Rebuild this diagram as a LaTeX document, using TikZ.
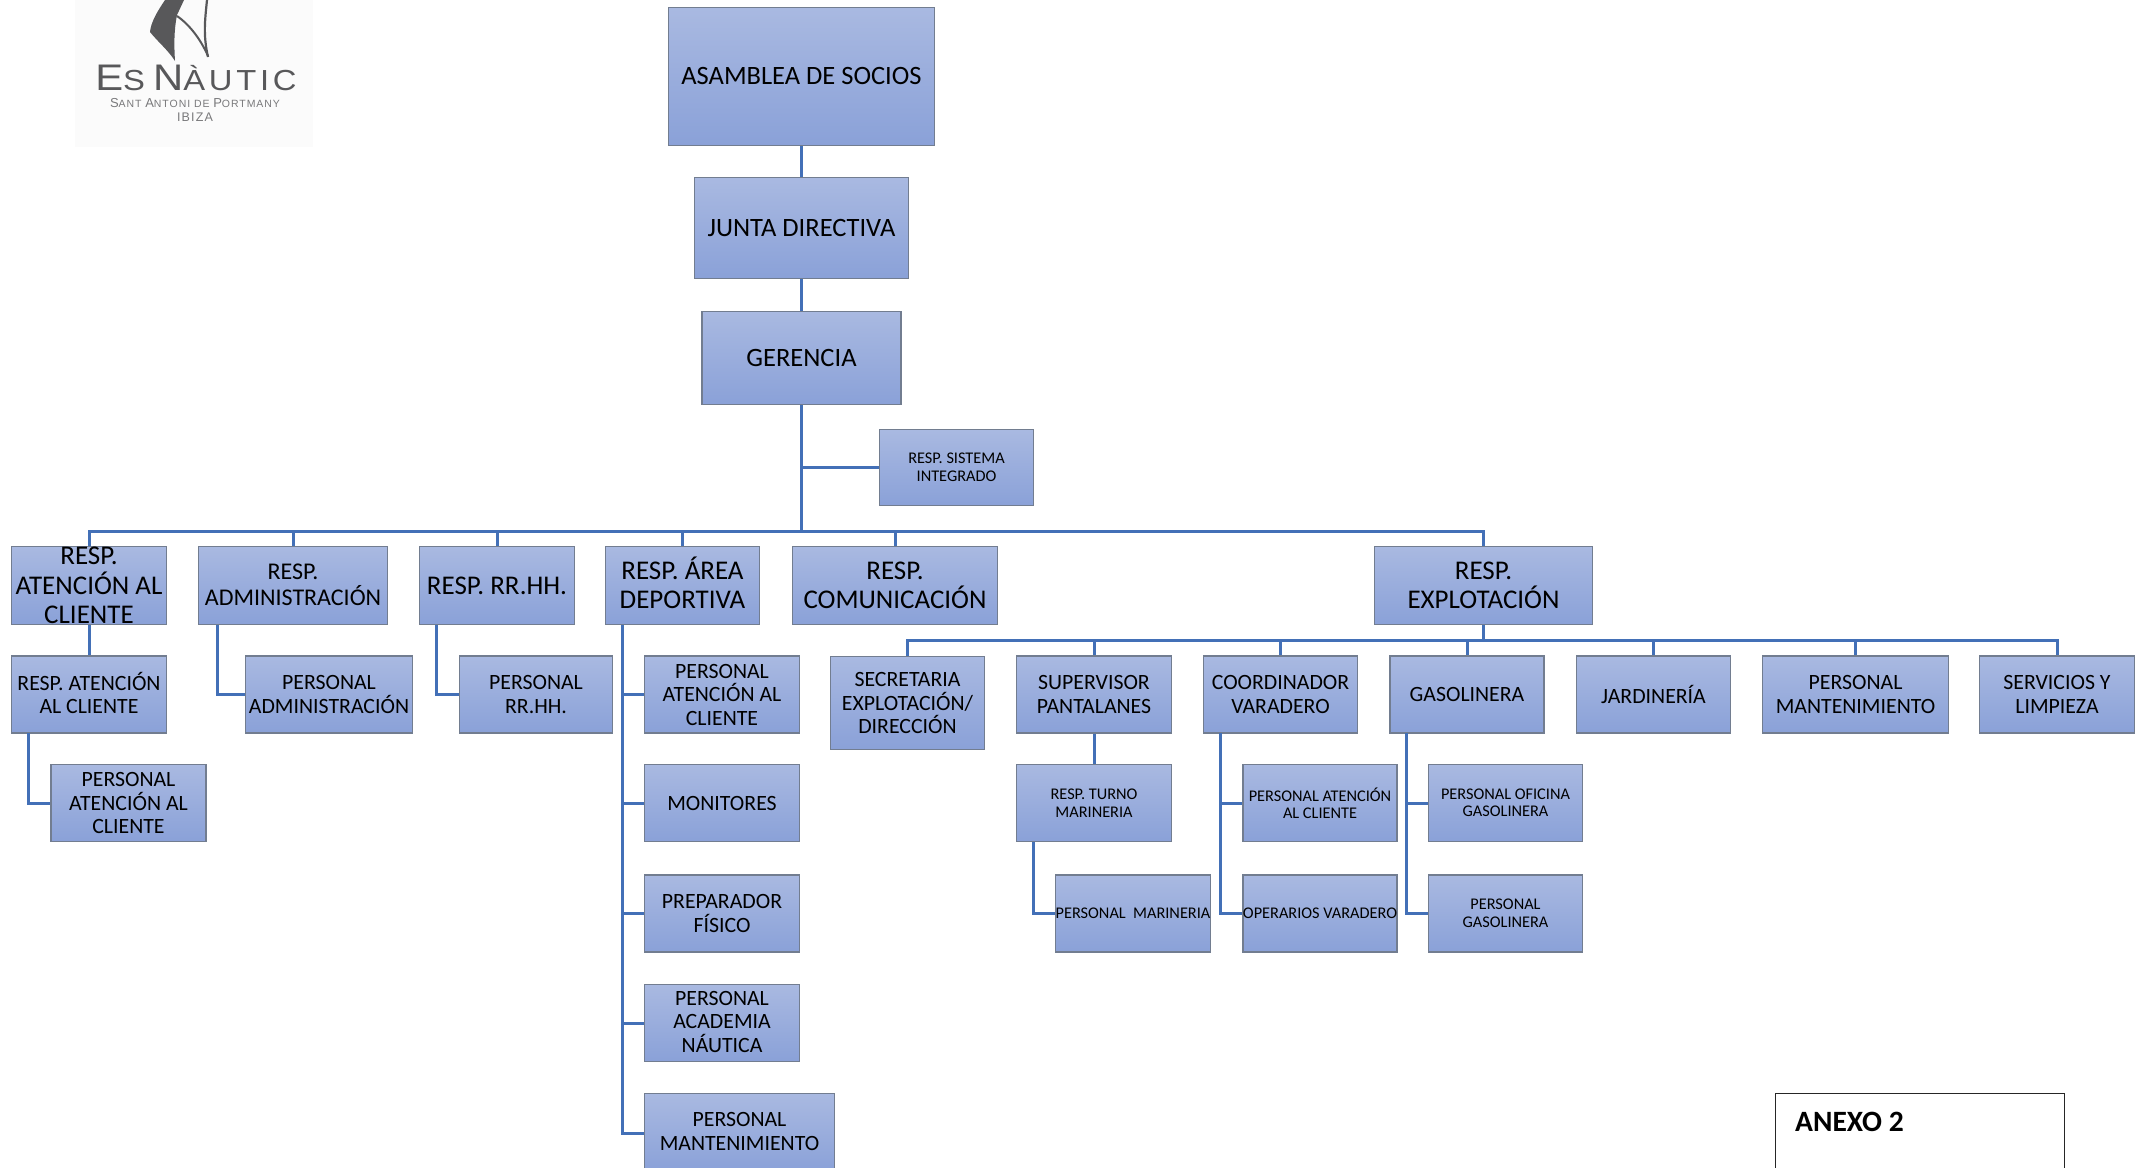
\documentclass[tikz,border=0pt]{standalone}
\usepackage{fontspec}
\setmainfont{Carlito}
\newfontfamily\logofont[LetterSpace=13,FakeStretch=1.13]{Liberation Sans}
\newfontfamily\logoplacefont[LetterSpace=9]{Liberation Sans}
\definecolor{boxtop}{HTML}{A9B9E1}
\definecolor{boxbottom}{HTML}{8AA1D8}
\definecolor{boxline}{HTML}{727D90}
\definecolor{connblue}{HTML}{4370B7}
\definecolor{logogray}{HTML}{58585A}
\newcommand{\logocaps}[2]{{\fontsize{37}{37}\selectfont #1}{\fontsize{29}{29}\selectfont #2}}
\newcommand{\logosmall}[2]{{\fontsize{13}{13}\selectfont #1}{\fontsize{10.5}{10.5}\selectfont #2}}
\newcommand{\lift}[1]{\rule[-#1]{0pt}{#1}}
\begin{document}
\begin{tikzpicture}[x=1pt,y=-1pt,
  orgbox/.style={rectangle, draw=boxline, line width=1.2pt, top color=boxtop, bottom color=boxbottom,
    align=center, inner sep=0pt, text=black},
  row/.style={orgbox, minimum width=155, minimum height=77},
  toptext/.style={font=\fontsize{26.5}{30}\selectfont},
  headtext/.style={font=\fontsize{27}{29.5}\selectfont},
  midtext/.style={font=\fontsize{21.8}{23.5}\selectfont},
  smalltext/.style={font=\fontsize{16.3}{17.5}\selectfont},
  conn/.style={draw=connblue, line width=3pt}]

\clip (0,0) rectangle (2140,1167);
\fill[white] (0,0) rectangle (2140,1167);

% logo
\fill[black!1.5] (75,0) rectangle (313,147);
\fill[logogray] (165,0) .. controls (157,12) and (151,22) .. (150,32) .. controls (158,42) and (168,50) .. (175,61)
  .. controls (174,45) and (174,30) .. (177,15) -- (184,0) -- cycle;
\draw[logogray,line width=2.2pt] (207,0) .. controls (205,20) and (203,35) .. (208,57);
\draw[logogray,line width=2pt] (177,16) .. controls (190,25) and (201,40) .. (208,56);
\node[text=logogray,font=\logofont,inner sep=0pt] (logoname) at (196,78) {\logocaps{E}{S}\hspace{8pt}\logocaps{N}{ÀUTIC}};
\node[text=logogray!80,font=\logoplacefont,inner sep=0pt] (logoplace) at (195,103) {\logosmall{S}{ANT} \logosmall{A}{NTONI DE} \logosmall{P}{ORTMANY}};
\node[text=logogray!80,font=\logoplacefont,inner sep=0pt] (logoisland) at (195,117) {{\fontsize{12.5}{12.5}\selectfont IBIZA}};

% top of the chart
\node[orgbox,toptext,minimum width=266,minimum height=138] (asamblea) at (801.5,76.5) {ASAMBLEA DE SOCIOS\lift{2pt}};
\node[orgbox,toptext,minimum width=214,minimum height=101] (junta) at (801.5,228) {JUNTA DIRECTIVA};
\node[orgbox,toptext,minimum width=199,minimum height=93] (gerencia) at (801.5,358) {GERENCIA};
\node[orgbox,font=\fontsize{16.3}{17.5}\selectfont,minimum width=154,minimum height=76] (sistema) at (956.5,467.5) {RESP. SISTEMA\\INTEGRADO};

% heads
\node[orgbox,headtext,minimum width=155,minimum height=78] (atencion) at (89,585.5) {RESP.\\ATENCIÓN AL\\CLIENTE};
\node[orgbox,font=\fontsize{24}{26}\selectfont,minimum width=189,minimum height=78] (admin) at (293,585.5) {RESP.\\ADMINISTRACIÓN\lift{2pt}};
\node[orgbox,headtext,minimum width=155,minimum height=78] (rrhh) at (497,585.5) {RESP. RR.HH.};
\node[orgbox,headtext,minimum width=154,minimum height=78] (deportiva) at (682.5,585.5) {RESP. ÁREA\\DEPORTIVA\lift{6pt}};
\node[orgbox,headtext,minimum width=205,minimum height=78] (comunicacion) at (895,585.5) {RESP.\\COMUNICACIÓN};
\node[orgbox,headtext,minimum width=218,minimum height=78] (explotacion) at (1483.5,585.5) {RESP.\\EXPLOTACIÓN};

% left columns
\node[row,midtext] (respaten) at (89,694.5) {RESP. ATENCIÓN\\AL CLIENTE\lift{3pt}};
\node[row,midtext] (peraten) at (128.5,803) {PERSONAL\\ATENCIÓN AL\\CLIENTE};
\node[row,midtext,minimum width=167] (peradmin) at (329,694.5) {PERSONAL\\ADMINISTRACIÓN};
\node[row,midtext,minimum width=153] (perrrhh) at (536,694.5) {PERSONAL\\RR.HH.};
\node[row,midtext] (depaten) at (722,694.5) {PERSONAL\\ATENCIÓN AL\\CLIENTE};
\node[row,midtext] (monitores) at (722,803) {MONITORES};
\node[row,midtext] (preparador) at (722,913.5) {PREPARADOR\\FÍSICO};
\node[row,midtext] (academia) at (722,1023) {PERSONAL\\ACADEMIA\\NÁUTICA\lift{3pt}};
\node[row,midtext,minimum width=190,minimum height=79] (depmant) at (739.5,1133) {PERSONAL\\MANTENIMIENTO\lift{3pt}};

% explotacion
\node[row,midtext,minimum width=154,minimum height=93] (secretaria) at (907.5,703) {SECRETARIA\\EXPLOTACIÓN/\\DIRECCIÓN};
\node[row,midtext] (supervisor) at (1094,694.5) {SUPERVISOR\\PANTALANES};
\node[row,midtext,minimum width=154] (coordinador) at (1280.5,694.5) {COORDINADOR\\VARADERO};
\node[row,midtext,minimum width=154] (gasolinera) at (1467,694.5) {GASOLINERA};
\node[row,midtext,minimum width=154] (jardineria) at (1653.5,694.5) {JARDINERÍA};
\node[row,midtext,minimum width=186] (expmant) at (1855.5,694.5) {PERSONAL\\MANTENIMIENTO};
\node[row,midtext] (servicios) at (2057,694.5) {SERVICIOS Y\\LIMPIEZA};

\node[row,smalltext] (turno) at (1094,803) {RESP. TURNO\\MARINERIA};
\node[row,smalltext,minimum width=154] (marineria) at (1133,913.5) {PERSONAL\ \ MARINERIA};
\node[row,smalltext,minimum width=154] (varaten) at (1320,803) {PERSONAL ATENCIÓN\\AL CLIENTE};
\node[row,smalltext,minimum width=154] (operarios) at (1320,913.5) {OPERARIOS VARADERO};
\node[row,smalltext,minimum width=154] (oficina) at (1505.5,803) {PERSONAL OFICINA\\GASOLINERA};
\node[row,smalltext,minimum width=154] (pergas) at (1505.5,913.5) {PERSONAL\\GASOLINERA};

\node[draw=black!85,line width=1.4pt,minimum width=289,minimum height=120,anchor=north west,inner sep=0pt] (anexobox) at (1775,1093) {};
\node[font=\fontsize{29.5}{29.5}\bfseries\selectfont,anchor=west,inner sep=0pt] (anexo) at (1795,1122) {ANEXO 2};

% buses and taps
\coordinate (busmain) at (801.5,531);
\coordinate (busexp) at (1483.5,640);
\coordinate (tapaten) at (28,733);
\coordinate (tapadmin) at (217,625);
\coordinate (taprrhh) at (436,625);
\coordinate (tapdep) at (622,625);
\coordinate (tapturno) at (1033,842);
\coordinate (tapcoord) at (1220,733);
\coordinate (tapgas) at (1406,733);

\draw[conn] (asamblea) -- (junta);
\draw[conn] (junta) -- (gerencia);
\draw[conn,line width=3.6pt] (gerencia) -- (busmain);
\draw[conn] (sistema) -| (gerencia);
\foreach \n in {atencion,admin,rrhh,deportiva,comunicacion,explotacion}
  \draw[conn] (busmain) -| (\n.north);
\draw[conn] (atencion) -- (respaten);
\draw[conn] (tapaten) |- (peraten);
\draw[conn] (tapadmin) |- (peradmin);
\draw[conn] (taprrhh) |- (perrrhh);
\foreach \n in {depaten,monitores,preparador,academia,depmant}
  \draw[conn] (tapdep) |- (\n);
\draw[conn] (explotacion) -- (busexp);
\foreach \n in {secretaria,supervisor,coordinador,gasolinera,jardineria,expmant,servicios}
  \draw[conn] (busexp) -| (\n.north);
\draw[conn] (supervisor) -- (turno);
\draw[conn] (tapturno) |- (marineria);
\foreach \n in {varaten,operarios}
  \draw[conn] (tapcoord) |- (\n);
\foreach \n in {oficina,pergas}
  \draw[conn] (tapgas) |- (\n);

\end{tikzpicture}
\end{document}
